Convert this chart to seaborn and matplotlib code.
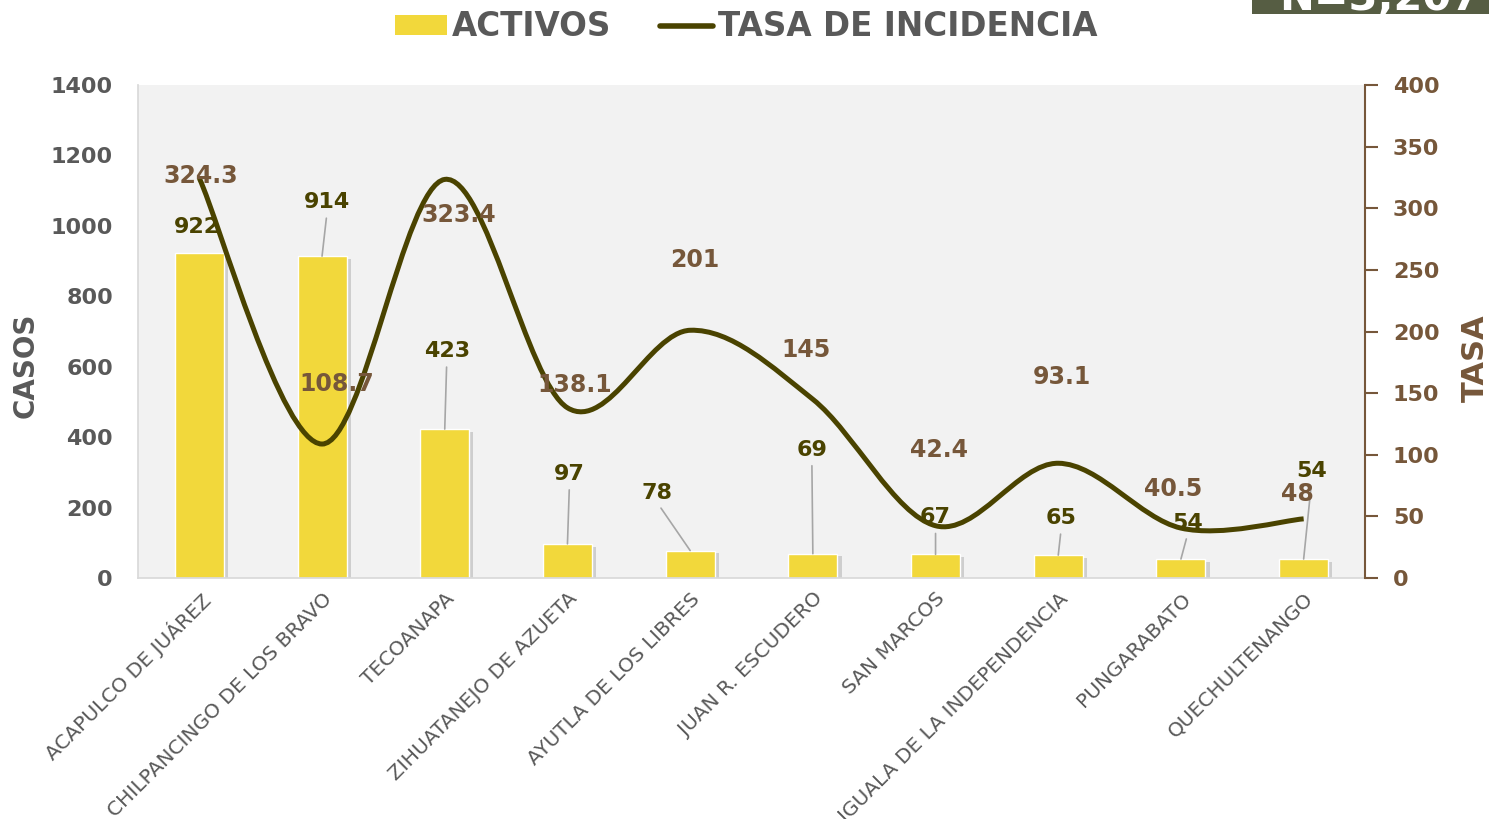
import numpy as np
import pandas as pd
import seaborn as sns
import matplotlib.pyplot as plt
from matplotlib.path import Path
from matplotlib.patches import PathPatch, Patch, Rectangle
from matplotlib.lines import Line2D
import matplotlib.patheffects as pe

# data
municipios = ['ACAPULCO DE JUÁREZ', 'CHILPANCINGO DE LOS BRAVO', 'TECOANAPA',
              'ZIHUATANEJO DE AZUETA', 'AYUTLA DE LOS LIBRES', 'JUAN R. ESCUDERO',
              'SAN MARCOS', 'IGUALA DE LA INDEPENDENCIA', 'PUNGARABATO', 'QUECHULTENANGO']
activos = [922, 914, 423, 97, 78, 69, 67, 65, 54, 54]
tasa = [324.3, 108.7, 323.4, 138.1, 201, 145, 42.4, 93.1, 40.5, 48]

# label offsets in pixels (dx, dy) from the mark
off_activos = [(-2, 26), (5, 54), (2, 78), (2, 70), (-33, 58), (-1, 104), (0, 37), (3, 37), (7, 36), (8, 88)]
off_tasa = [(1, 2), (15, 60), (14, -36), (7, 23), (5, 70), (-7, 49), (3, 76), (4, 86), (-8, 39), (-6, 25)]

# colours
amarillo = '#F2D83B'
olivo = '#4A4300'
cafe = '#76573A'
gris = '#595959'

sns.set_theme(style='white')
plt.rcParams['font.family'] = ['DejaVu Sans']

df = pd.DataFrame({'municipio': municipios, 'activos': activos, 'tasa': tasa})

fig = plt.figure(figsize=(14.89, 8.19), dpi=100)
ax = fig.add_axes([138/1489, 1-578/819, (1365-138)/1489, (578-85)/819])
ax.set_facecolor('#F2F2F2')

# bars - activos
sns.barplot(data=df, x='municipio', y='activos', color=amarillo, width=0.4, saturation=1, ax=ax)
for bar in ax.patches:
    bar.set_path_effects([pe.SimplePatchShadow(offset=(3, -2), shadow_rgbFace='#8C8C8C', alpha=0.35), pe.Normal()])
ax.set_xlim(-0.5, 9.5)
ax.set_ylim(0, 1400)
ax.set_yticks(range(0, 1401, 200))
ax.set_xlabel('')
ax.set_ylabel('CASOS', fontsize=20, color=gris, fontweight='bold')
ax.yaxis.set_label_coords(-0.08, 0.432)
ax.tick_params(axis='y', labelsize=16, labelcolor=gris, length=0, pad=18)
for t in ax.get_yticklabels():
    t.set_fontweight('bold')
ax.set_xticks(range(len(municipios)))
ax.set_xticklabels(municipios, rotation=45, ha='right', rotation_mode='anchor',
                   fontsize=14.5, color=gris)
ax.tick_params(axis='x', length=0, pad=8)
for s in ['top', 'right']:
    ax.spines[s].set_visible(False)
ax.spines['left'].set_color('#D9D9D9')
ax.spines['bottom'].set_color('#D9D9D9')

# secondary axis - tasa de incidencia
ax2 = ax.twinx()
ax2.set_ylim(0, 400)
ax2.set_yticks(range(0, 401, 50))
ax2.tick_params(axis='y', labelsize=16, labelcolor=cafe, color=cafe, length=9, width=1.5, pad=11)
for t in ax2.get_yticklabels():
    t.set_fontweight('bold')
for s in ['top', 'left', 'bottom']:
    ax2.spines[s].set_visible(False)
ax2.spines['right'].set_color(cafe)
ax2.spines['right'].set_linewidth(1.5)
ax2.set_ylabel('TASA', fontsize=22, color=cafe, fontweight='bold', rotation=90,
               va='center', ha='center', rotation_mode='anchor')
ax2.yaxis.set_label_coords(1.0897, 0.446)

# smoothed line (bezier through the points, like excel smoothing)
xs = np.arange(len(tasa), dtype=float)
ys = np.array(tasa, dtype=float)
verts = [(xs[0], ys[0])]
codes = [Path.MOVETO]
n = len(xs)
for i in range(n - 1):
    p_prev = max(i - 1, 0)
    p_next = min(i + 2, n - 1)
    c1 = (xs[i] + (xs[i+1] - xs[p_prev]) / 6, ys[i] + (ys[i+1] - ys[p_prev]) / 6)
    c2 = (xs[i+1] - (xs[p_next] - xs[i]) / 6, ys[i+1] - (ys[p_next] - ys[i]) / 6)
    verts += [c1, c2, (xs[i+1], ys[i+1])]
    codes += [Path.CURVE4] * 3
ax2.add_patch(PathPatch(Path(verts, codes), facecolor='none', edgecolor=olivo, lw=3.6, capstyle='butt'))

# data labels - activos
for i, v in enumerate(activos):
    dx, dy = off_activos[i]
    arrow = None if i == 0 else dict(arrowstyle='-', color='#A6A6A6', lw=1.2, shrinkA=2, shrinkB=0, relpos=(0.5, 0))
    ax.annotate(str(v), xy=(i, v), xytext=(dx, dy), textcoords='offset pixels',
                ha='center', va='center', fontsize=16, color=olivo, fontweight='bold',
                arrowprops=arrow, zorder=5)

# data labels - tasa
for i, v in enumerate(tasa):
    dx, dy = off_tasa[i]
    txt = f'{v:g}'
    ax2.annotate(txt, xy=(i, v), xytext=(dx, dy), textcoords='offset pixels',
                 ha='center', va='center', fontsize=17, color=cafe, fontweight='bold', zorder=6)

# legend
handles = [Patch(facecolor=amarillo, edgecolor='none'),
           Line2D([0], [0], color=olivo, lw=4)]
fig.legend(handles, ['ACTIVOS', 'TASA DE INCIDENCIA'], loc='center', bbox_to_anchor=(746/1489, 1-27/819),
           ncol=2, frameon=False, handlelength=1.6, handleheight=0.55,
           handletextpad=0.15, columnspacing=1.5, labelcolor=gris,
           prop={'size': 23.5, 'weight': 'bold'})

# N box at top right (cut off like the original)
fig.patches.append(Rectangle((1252/1489, 1-14/819), 1-1252/1489, 14/819, transform=fig.transFigure,
                             facecolor='#565D43', edgecolor='none'))
fig.text(1380/1489, 1-10/819, 'N=3,207', color='white', fontsize=30, fontweight='bold',
         ha='center', va='baseline')

plt.savefig('out.png', dpi=100)
